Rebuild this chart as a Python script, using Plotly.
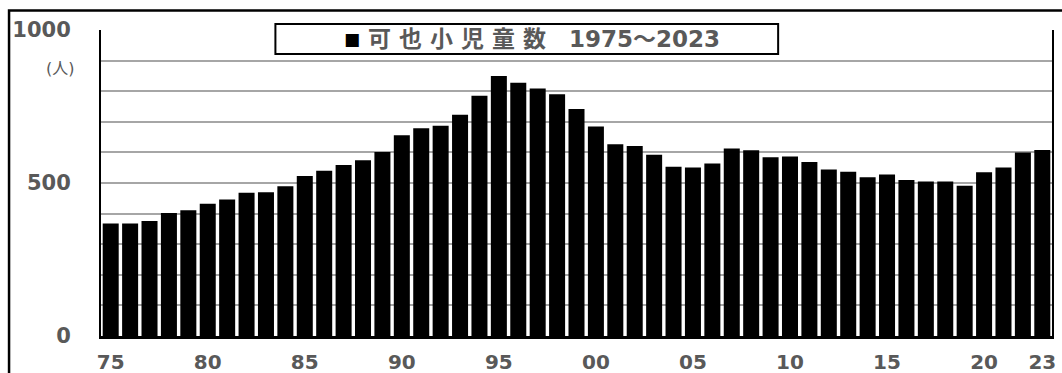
import plotly.graph_objects as go

years = list(range(1975, 2024))
students = [368, 368, 376, 402, 411, 432, 446, 468, 470, 489,
            523, 540, 559, 574, 601, 656, 679, 687, 723, 785,
            850, 828, 809, 790, 742, 685, 627, 621, 592, 553,
            551, 564, 613, 607, 584, 587, 569, 544, 537, 519,
            528, 510, 505, 505, 491, 535, 551, 600, 608]
tick_years = [1975, 1980, 1985, 1990, 1995, 2000, 2005, 2010, 2015, 2020, 2023]
tick_text = ["75", "80", "85", "90", "95", "00", "05", "10", "15", "20", "23"]
y_ticks = [0, 500, 1000]
legend_label = "可 也 小 児 童 数"
legend_range = "1975～2023"
unit_label = "(人)"

W, H = 1062, 373
L, R, T, B = 100.5, 10, 30, 37
PW = W - L - R
PH = H - T - B


def px(x):
    return (x - L) / PW


def py(y):
    return (H - B - y) / PH


gray = "#595959"
fnt = "DejaVu Sans, Noto Sans CJK JP, sans-serif"

fig = go.Figure()
fig.add_trace(go.Bar(x=years, y=students, marker=dict(color="black", line=dict(width=0)),
                     showlegend=False))

shapes = []
shapes.append(dict(type="line", xref="paper", yref="y", x0=0, x1=1, y0=500, y1=500,
                   line=dict(color="black", width=2), layer="below"))
shapes.append(dict(type="rect", xref="paper", yref="paper", x0=px(8.5), x1=px(1070),
                   y0=py(400), y1=py(10.5), line=dict(color="black", width=2.5),
                   fillcolor="rgba(0,0,0,0)", layer="above"))
shapes.append(dict(type="rect", xref="paper", yref="paper", x0=px(275), x1=px(778),
                   y0=py(54), y1=py(24), line=dict(color="black", width=2),
                   fillcolor="white", layer="above"))
fig.update_layout(shapes=shapes)

annotations = [
    dict(x=px(352), y=py(38.5), xref="paper", yref="paper", text="■",
         showarrow=False, font=dict(family=fnt, size=17, color="black"),
         xanchor="center", yanchor="middle"),
    dict(x=px(366), y=py(39), xref="paper", yref="paper",
         text="<b>" + legend_label + "\u3000" + legend_range + "</b>",
         showarrow=False, font=dict(family=fnt, size=23, color=gray),
         xanchor="left", yanchor="middle"),
    dict(x=px(76), y=py(68), xref="paper", yref="paper", text=unit_label,
         showarrow=False, font=dict(family=fnt, size=16, color=gray),
         xanchor="right", yanchor="middle"),
]
fig.update_layout(annotations=annotations)

fig.update_layout(
    width=W, height=H,
    margin=dict(l=L, r=R, t=T, b=B, pad=0, autoexpand=False),
    paper_bgcolor="white", plot_bgcolor="white",
    bargap=0.175,
    font=dict(family=fnt, color=gray),
    xaxis=dict(range=[1974.5, 2023.5], tickmode="array", tickvals=tick_years,
               ticktext=tick_text, showgrid=False, zeroline=False, automargin=False,
               showline=True, linecolor="black", linewidth=2.5, mirror=False,
               ticks="", ticklabelstandoff=6,
               tickfont=dict(family=fnt, size=20, color=gray, weight="bold")),
    yaxis=dict(range=[0, 1000], tickmode="array", tickvals=y_ticks,
               showgrid=True, gridcolor="#a6a6a6", gridwidth=1.5,
               zeroline=False, automargin=False,
               showline=True, linecolor="black", linewidth=2, mirror=True,
               ticks="", ticklabelstandoff=24,
               tickfont=dict(family=fnt, size=21, color=gray, weight="bold")),
)
fig.update_yaxes(minor=dict(tickvals=list(range(100, 1000, 100)), showgrid=True,
                            gridcolor="#a6a6a6", gridwidth=1.5, ticks=""))

fig.write_html("out.html")
